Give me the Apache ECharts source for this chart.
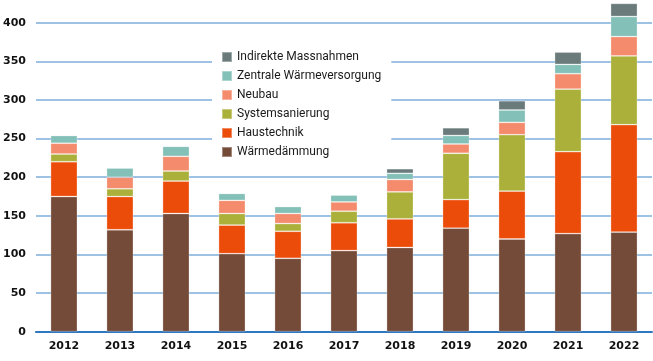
<!DOCTYPE html>
<html><head><meta charset="utf-8">
<script src="https://cdn.jsdelivr.net/npm/echarts@6/dist/echarts.min.js"></script>
<style>html,body{margin:0;padding:0;background:#fff}#c{width:653px;height:361px}</style>
</head><body><div id="c"></div>
<script>
const years = ['2012','2013','2014','2015','2016','2017','2018','2019','2020','2021','2022'];
const waermedaemmung = [175,132,153,101,95,105,109,134,120,127,129];
const haustechnik    = [45,43,42,37,35,36,37,37,62,106,139];
const systemsanierung= [10,10,13,15,10,15,35,60,73,81,89];
const neubau         = [14,15,19,17,13,12,16,12,16,20,25];
const zentrale       = [10,12,13,9,9,9,8,11,16,12,26];
const indirekte      = [0,0,0,0,0,0,6,10,12,16,17];
const yTicks = [0,50,100,150,200,250,300,350,400];

const names = ['Wärmedämmung','Haustechnik','Systemsanierung','Neubau','Zentrale Wärmeversorgung','Indirekte Massnahmen'];
const colors = ['#744a38','#ec4c0a','#abb03a','#f38b6c','#83c0b7','#6b7b7c'];
const datas = [waermedaemmung,haustechnik,systemsanierung,neubau,zentrale,indirekte];

const chart = echarts.init(document.getElementById('c'), null, {renderer:'canvas'});
chart.setOption({
  animation:false,
  grid:{left:35,right:1,top:22.7,bottom:29.3,containLabel:false},
  legend:{
    orient:'vertical', left:212, top:46,
    data:names.slice().reverse(),
    itemWidth:10, itemHeight:10, itemGap:7,
    icon:'rect',
    backgroundColor:'#fff',
    padding:[5,10,6,9],
    textStyle:{fontFamily:'Roboto',fontSize:12,color:'#1a1a1a'}
  },
  xAxis:{
    type:'category', data:years,
    axisTick:{show:false},
    axisLine:{lineStyle:{color:'#2f77c0',width:2}},
    axisLabel:{fontFamily:'DejaVu Sans',fontWeight:'bold',fontSize:11,color:'#111',margin:9}
  },
  yAxis:{
    type:'value', min:yTicks[0], max:yTicks[yTicks.length-1], interval:50,
    axisLine:{show:false}, axisTick:{show:false},
    splitLine:{lineStyle:{color:'#7eaedb',width:1.5}},
    axisLabel:{fontFamily:'DejaVu Sans',fontWeight:'bold',fontSize:11,color:'#111',margin:10}
  },
  series: names.map((n,i)=>({
    name:n, type:'bar', stack:'all', data:datas[i], barWidth:'48%', clip:false,
    itemStyle:{color:colors[i],borderColor:'rgba(255,255,255,0.35)',borderWidth:0.8}
  }))
});
</script></body></html>
